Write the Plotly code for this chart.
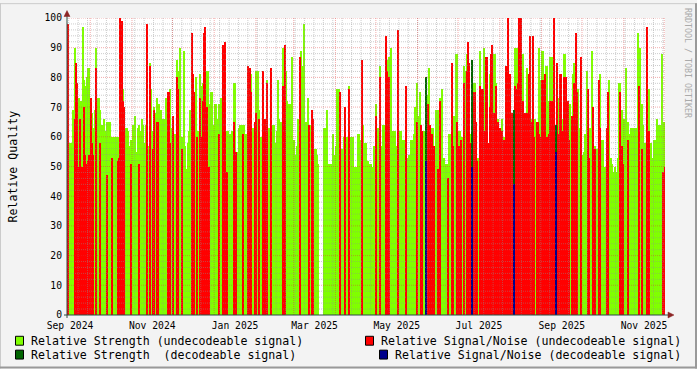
import plotly.graph_objects as go
import pandas as pd

# ---------------- data ----------------
start_day = "2024-09-14"          # first daily sample
range_start = "2024-09-13 18:00"
range_end = "2025-12-01 14:00"

# Relative Strength (undecodeable signal), one value per day
strength_undec = [
    58, 58, 58, 52, 69, 90, 66, 72, 73, 71,
    72, 97, 79, 77, 80, 83, 83, 66, 68, 63,
    69, 90, 73, 73, 69, 64, 61, 66, 62, 65,
    65, 65, 60, 60, 60, 58, 60, 60, 60, 72,
    62, 76, 70, 63, 63, 62, 57, 59, 64, 57,
    67, 55, 63, 64, 62, 66, 64, 58, 64, 60,
    57, 85, 76, 62, 70, 68, 73, 68, 71, 69,
    66, 66, 62, 73, 66, 66, 76, 63, 63, 61,
    61, 86, 82, 90, 60, 60, 89, 57, 49, 58,
    62, 69, 60, 60, 62, 80, 62, 62, 81, 77,
    78, 60, 60, 82, 82, 71, 75, 75, 64, 71,
    71, 66, 71, 71, 73, 64, 64, 65, 62, 62,
    61, 61, 62, 78, 78, 55, 55, 63, 64, 64,
    60, 64, 61, 61, 60, 60, 81, 63, 63, 57,
    82, 82, 69, 60, 60, 61, 57, 60, 79, 63,
    58, 58, 64, 64, 58, 62, 79, 66, 65, 64,
    90, 66, 82, 72, 71, 71, 87, 59, 59, 54,
    57, 66, 66, 89, 84, 98, 65, 65, 73, 57,
    64, 66, 63, 56, 56, 54, 51, None, None, None,
    63, 63, 69, 51, 51, 51, 51, 61, 54, 57,
    76, 76, 65, 56, 56, 60, 60, 60, 51, 77,
    60, 60, 60, 50, 50, 61, 61, 59, 59, 64,
    58, 58, 52, 52, 51, 51, 50, 57, 47, 71,
    63, 62, 84, 57, 64, 64, 60, 86, 87, 58,
    90, 62, 50, 62, 57, 56, 62, 62, 54, 59,
    59, 59, 53, 54, 54, 59, 59, 61, 70, 78,
    67, 75, 61, 62, 62, 60, None, 74, 83, 55,
    63, 63, 56, 69, 69, 69, 73, 73, 76, 53,
    51, 51, 51, 61, 61, 70, 67, 67, 88, 88,
    62, 62, 60, 60, 84, 82, 88, 75, 68, 61,
    None, 78, 78, 61, 53, 53, 89, 66, 66, 90,
    55, 55, 54, 81, 60, 60, 88, 88, 78, 66,
    56, 56, 66, 60, 60, 55, 55, 60, 60, 60,
    60, None, 90, 90, 90, 70, 70, 81, 88, 62,
    62, 83, 70, 70, 66, 62, 66, 66, 52, 52,
    90, 79, 89, 89, 69, 84, 84, 72, 87, 87,
    60, 60, None, 56, 73, 55, 55, 66, 88, 88,
    65, 62, 57, 71, 62, 81, 85, 60, 61, 76,
    63, 55, 54, 55, 61, 82, 62, 63, 63, 89,
    62, 57, 56, 56, 68, 81, 59, 59, 50, 50,
    63, 69, 79, 53, 51, 48, 50, 48, 53, 78,
    78, 69, 66, 66, 83, 65, 65, 61, 63, 63,
    63, 63, 63, 95, 90, 90, 71, 64, 58, 55,
    62, 76, 58, 58, 53, 59, 59, 66, 61, 64,
    64, 88, 65, 65,
]

# Relative Signal/Noise (undecodeable signal), one value per day (0 = none)
snr_undec = [
    98, 0, 0, 0, 0, 66, 85, 78, 50, 66,
    50, 50, 70, 54, 51, 52, 54, 73, 58, 54,
    0, 83, 0, 0, 58, 0, 0, 0, 0, 47,
    0, 0, 0, 53, 0, 0, 0, 52, 53, 100,
    99, 72, 70, 0, 0, 0, 0, 51, 0, 0,
    0, 0, 0, 51, 0, 0, 0, 0, 0, 98,
    0, 84, 0, 56, 69, 0, 65, 65, 0, 0,
    0, 0, 0, 0, 75, 75, 58, 0, 67, 0,
    0, 80, 76, 0, 0, 56, 0, 0, 0, 0,
    0, 0, 95, 81, 75, 0, 60, 0, 73, 60,
    72, 95, 97, 70, 0, 50, 0, 0, 0, 0,
    0, 0, 61, 0, 0, 91, 0, 92, 48, 0,
    0, 0, 0, 65, 0, 55, 0, 0, 0, 0,
    61, 0, 0, 0, 84, 83, 75, 0, 0, 65,
    68, 0, 66, 0, 0, 82, 66, 0, 78, 0,
    0, 83, 0, 0, 0, 0, 0, 0, 0, 0,
    77, 91, 0, 0, 0, 0, 0, 0, 0, 0,
    0, 0, 87, 0, 0, 0, 0, 0, 0, 64,
    0, 69, 66, 0, 0, 0, 0, None, None, None,
    0, 0, 0, 0, 0, 0, 0, 0, 0, 0,
    0, 0, 75, 0, 0, 0, 70, 0, 0, 76,
    0, 0, 0, 0, 0, 0, 0, 0, 86, 0,
    0, 0, 0, 0, 0, 0, 0, 0, 0, 67,
    0, 0, 80, 0, 0, 0, 94, 82, 80, 0,
    0, 0, 0, 0, 0, 96, 0, 0, 0, 0,
    0, 77, 0, 0, 0, 0, 0, 0, 0, 65,
    0, 0, 64, 62, 0, 0, None, 71, 0, 64,
    61, 0, 57, 0, 0, 49, 72, 0, 0, 0,
    0, 0, 46, 0, 0, 85, 57, 0, 0, 65,
    57, 0, 59, 0, 78, 0, 82, 92, 85, 58,
    None, 75, 75, 65, 52, 0, 77, 76, 76, 62,
    87, 87, 58, 70, 88, 91, 68, 68, 77, 65,
    63, 63, 62, 59, 59, 84, 83, 100, 81, 68,
    68, None, 77, 76, 78, 100, 100, 72, 72, 68,
    68, 68, 81, 94, 65, 94, 60, 0, 65, 65,
    61, 60, 79, 79, 81, 60, 60, 61, 72, 72,
    72, 100, None, 85, 61, 81, 81, 62, 80, 80,
    80, 72, 59, 0, 67, 51, 78, 95, 75, 0,
    0, 87, 0, 0, 0, 0, 76, 53, 0, 0,
    70, 56, 0, 0, 79, 63, 0, 0, 0, 0,
    63, 75, 0, 0, 0, 0, 0, 0, 0, 0,
    75, 57, 51, 0, 0, 0, 59, 0, 0, 0,
    0, 0, 0, 0, 77, 0, 56, 0, 0, 0,
    97, 62, 0, 0, 0, 0, 0, 0, 0, 0,
    0, 0, 48, 50,
]

# decodeable days
dec_days = ["2025-06-07", "2025-07-11", "2025-08-11", "2025-09-11"]
dec_strength = [80, 86, 69, 64]
dec_snr = [52, 50, 44, 55]

tick_labels = ["Sep 2024", "Nov 2024", "Jan 2025", "Mar 2025",
               "May 2025", "Jul 2025", "Sep 2025", "Nov 2025"]
y_ticks = [0, 10, 20, 30, 40, 50, 60, 70, 80, 90, 100]

legend_items = [
    ("Relative Strength (undecodeable signal)", "#80FF00"),
    ("Relative Signal/Noise (undecodeable signal)", "#FF0000"),
    ("Relative Strength  (decodeable signal)", "#006400"),
    ("Relative Signal/Noise (decodeable signal)", "#00008B"),
]

# ---------------- geometry helpers ----------------
W, H = 697, 369
L, R_, T, B = 67, 665, 15, 315
PW, PH = R_ - L, B - T


def px(x):
    return (x - L) / PW


def py(y):
    return (B - y) / PH


DAY_MS = 86400000
days = pd.date_range(start_day, periods=len(strength_undec), freq="D") + pd.Timedelta(hours=12)
dec_x = pd.to_datetime(dec_days) + pd.Timedelta(hours=12)

FONT = "DejaVu Sans Mono"

fig = go.Figure()
fig.add_trace(go.Bar(x=days, y=strength_undec, width=DAY_MS,
                     marker=dict(color="#80FF00", line=dict(width=0)), showlegend=False))
fig.add_trace(go.Bar(x=days, y=[v if v else None for v in snr_undec], width=DAY_MS,
                     marker=dict(color="#FF0000", line=dict(width=0)), showlegend=False))
fig.add_trace(go.Bar(x=dec_x, y=dec_strength, width=DAY_MS,
                     marker=dict(color="#006400", line=dict(width=0)), showlegend=False))
fig.add_trace(go.Bar(x=dec_x, y=dec_snr, width=DAY_MS,
                     marker=dict(color="#00008B", line=dict(width=0)), showlegend=False))

# tick positions: labels centred on their month
tick_vals = []
for lab in tick_labels:
    s = pd.to_datetime(lab, format="%b %Y")
    e = s + pd.offsets.MonthBegin(1)
    tick_vals.append(s + (e - s) / 2)

shapes = []
minor_col = "rgba(143,143,143,0.45)"
major_col = "rgba(222,48,48,0.4)"
# minor grid
for wk in pd.date_range("2024-09-15", "2025-11-30", freq="7D"):
    shapes.append(dict(type="line", xref="x", yref="paper", x0=wk, x1=wk, y0=0, y1=1,
                       line=dict(color=minor_col, width=1, dash="1px,1px"), layer="above"))
for yv in range(2, 100, 2):
    if yv % 10:
        shapes.append(dict(type="line", xref="paper", yref="y", x0=0, x1=1, y0=yv, y1=yv,
                           line=dict(color=minor_col, width=1, dash="1px,1px"), layer="above"))
# major grid
for mo in pd.date_range("2024-10-01", "2025-12-01", freq="MS"):
    shapes.append(dict(type="line", xref="x", yref="paper", x0=mo, x1=mo, y0=0, y1=1,
                       line=dict(color=major_col, width=1, dash="1px,1px"), layer="above"))
for yv in y_ticks[1:]:
    shapes.append(dict(type="line", xref="paper", yref="y", x0=0, x1=1, y0=yv, y1=yv,
                       line=dict(color=major_col, width=1, dash="1px,1px"), layer="above"))

axis_col = "#2C4D43"
arrow_col = "#8C2525"
# axes
shapes.append(dict(type="line", xref="paper", yref="paper", x0=px(67), x1=px(67),
                   y0=py(318), y1=py(12), line=dict(color=axis_col, width=1), layer="above"))
shapes.append(dict(type="line", xref="paper", yref="paper", x0=px(64), x1=px(669),
                   y0=py(315), y1=py(315), line=dict(color=axis_col, width=1), layer="above"))
# arrows
shapes.append(dict(type="path", xref="paper", yref="paper",
                   path=f"M {px(64)} {py(13.5)} L {px(67)} {py(7.5)} L {px(70)} {py(13.5)} Z",
                   fillcolor=arrow_col, line=dict(color=arrow_col, width=0.5), layer="above"))
shapes.append(dict(type="path", xref="paper", yref="paper",
                   path=f"M {px(668)} {py(312)} L {px(674)} {py(315)} L {px(668)} {py(318)} Z",
                   fillcolor=arrow_col, line=dict(color=arrow_col, width=0.5), layer="above"))

# frame
shapes.append(dict(type="line", xref="paper", yref="paper", x0=px(0.5), x1=px(0.5), y0=py(0), y1=py(369),
                   line=dict(color="#CBCBCB", width=1), layer="above"))
shapes.append(dict(type="line", xref="paper", yref="paper", x0=px(0), x1=px(697), y0=py(0.5), y1=py(0.5),
                   line=dict(color="#CBCBCB", width=1), layer="above"))
shapes.append(dict(type="line", xref="paper", yref="paper", x0=px(696), x1=px(696), y0=py(0), y1=py(369),
                   line=dict(color="#999999", width=2), layer="above"))
shapes.append(dict(type="line", xref="paper", yref="paper", x0=px(0), x1=px(697), y0=py(368), y1=py(368),
                   line=dict(color="#999999", width=2), layer="above"))

annotations = []
# legend (two columns, two rows)
leg_pos = [(15.5, 30, 341), (365.5, 380, 341), (15.5, 30, 355), (379.5, 394, 355)]
for (text, col), (sx, tx, cy) in zip(legend_items, leg_pos):
    shapes.append(dict(type="rect", xref="paper", yref="paper",
                       x0=px(sx), x1=px(sx + 8), y0=py(cy - 4.5), y1=py(cy + 4.5),
                       fillcolor=col, line=dict(color="black", width=1), layer="above"))
    annotations.append(dict(text=text, xref="paper", yref="paper", x=px(tx - 1), y=py(cy),
                            xanchor="left", yanchor="middle", showarrow=False,
                            font=dict(family=FONT, size=11.6, color="black")))

annotations.append(dict(text="Relative Quality", xref="paper", yref="paper", x=px(12), y=py(165),
                        xanchor="center", yanchor="middle", showarrow=False, textangle=-90,
                        font=dict(family=FONT, size=11.6, color="black")))
annotations.append(dict(text="RRDTOOL / TOBI OETIKER", xref="paper", yref="paper", x=px(688.5), y=py(60),
                        xanchor="center", yanchor="middle", showarrow=False, textangle=90,
                        font=dict(family=FONT, size=8.3, color="#AAAAAA")))

fig.update_layout(
    width=W, height=H, autosize=False,
    margin=dict(l=L, r=W - R_, t=T, b=H - B, pad=0),
    paper_bgcolor="#F3F3F3", plot_bgcolor="white",
    barmode="overlay", bargap=0,
    shapes=shapes, annotations=annotations,
    xaxis=dict(type="date", range=[range_start, range_end], tickvals=tick_vals, ticktext=tick_labels,
               showgrid=False, zeroline=False, showline=False, ticks="",
               tickfont=dict(family=FONT, size=9.7, color="black"), ticklabelstandoff=3),
    yaxis=dict(range=[0, 100], tickvals=y_ticks, showgrid=False, zeroline=False, showline=False,
               ticks="", tickfont=dict(family=FONT, size=9.7, color="black"), ticklabelstandoff=4),
)

fig.write_html("out.html")
